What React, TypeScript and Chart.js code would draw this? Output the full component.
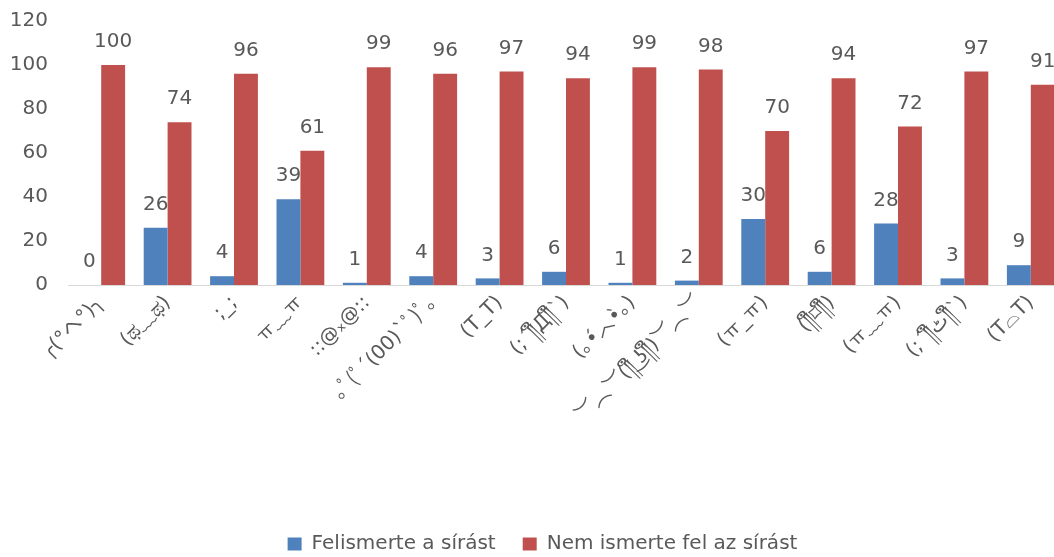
import React, { useEffect, useRef } from "react";
import { Chart, registerables } from "chart.js";

Chart.register(...registerables);

const categories: string[] = [
  "╭(°ヘ°)╮",
  "(ಥ﹏ಥ)",
  ";_;",
  "ㅠ﹏ㅠ",
  "::@ₓ@::",
  "｡ﾟ(ﾟ´(00)`ﾟ)ﾟ｡",
  "(T_T)",
  "(;´༎ຶД༎ຶ`)",
  "(｡•́︿•̀｡)",
  "︶︵︶(༎ຶ ͜ʖ༎ຶ)︶︵︶",
  "(ㅠ_ㅠ)",
  "(༎ຶ⌑༎ຶ)",
  "(ㅠ﹏ㅠ)",
  "(;´༎ຶٹ༎ຶ`)",
  "(T⌓T)",
];

const recognized: number[] = [0, 26, 4, 39, 1, 4, 3, 6, 1, 2, 30, 6, 28, 3, 9];
const notRecognized: number[] = [100, 74, 96, 61, 99, 96, 97, 94, 99, 98, 70, 94, 72, 97, 91];

const seriesNames: string[] = ["Felismerte a sírást", "Nem ismerte fel az sírást"];
const yTicks: number[] = [0, 20, 40, 60, 80, 100, 120];

const FONT = "'DejaVu Sans', 'Noto Sans', 'Noto Sans CJK KR', sans-serif";
const TEXT = "#595959";

const valueLabels = {
  id: "valueLabels",
  afterDatasetsDraw(chart: any) {
    const ctx = chart.ctx;
    ctx.save();
    ctx.font = `20px ${FONT}`;
    ctx.fillStyle = TEXT;
    ctx.textAlign = "center";
    ctx.textBaseline = "bottom";
    chart.data.datasets.forEach((ds: any, i: number) => {
      const meta = chart.getDatasetMeta(i);
      meta.data.forEach((bar: any, j: number) => {
        ctx.fillText(String(ds.data[j]), bar.x, bar.y - 13);
      });
    });
    ctx.restore();
  },
};

const legendShift = {
  id: "legendShift",
  afterLayout(chart: any) {
    const lg = chart.legend;
    if (!lg) return;
    const dx = 8;
    lg.left += dx;
    lg.right += dx;
    const targetTop = 543 - 27 - 9;
    const dy = targetTop - lg.top;
    lg.top += dy;
    lg.bottom += dy;
  },
};

export default function App() {
  const ref = useRef<HTMLCanvasElement | null>(null);
  useEffect(() => {
    if (!ref.current) return;
    const chart = new Chart(ref.current, {
      type: "bar",
      data: {
        labels: categories,
        datasets: [
          {
            label: seriesNames[0],
            data: recognized,
            backgroundColor: "#4F81BD",
            categoryPercentage: 0.72,
            barPercentage: 1,
          },
          {
            label: seriesNames[1],
            data: notRecognized,
            backgroundColor: "#C0504D",
            categoryPercentage: 0.72,
            barPercentage: 1,
          },
        ],
      },
      options: {
        animation: false,
        responsive: false,
        layout: { padding: { left: 5, top: 21, right: 0, bottom: 0 } },
        plugins: {
          tooltip: { enabled: false },
          legend: {
            position: "bottom",
            labels: {
              boxWidth: 14,
              boxHeight: 13,
              padding: 27,
              color: TEXT,
              font: { family: FONT, size: 20 },
            },
          },
        },
        scales: {
          x: {
            grid: { display: false, drawTicks: false },
            border: { display: true, color: "#D9D9D9", width: 1 },
            ticks: {
              color: TEXT,
              font: { family: FONT, size: 20 },
              maxRotation: 45,
              minRotation: 45,
              autoSkip: false,
              padding: 6,
            },
            afterFit: (scale: any) => {
              scale.height = 215;
              scale.paddingLeft = 0;
              scale.paddingRight = 0;
            },
          },
          y: {
            min: 0,
            max: 120,
            grid: { display: false, drawTicks: false },
            border: { display: false },
            afterBuildTicks: (scale: any) => {
              scale.ticks = yTicks.map((v) => ({ value: v }));
            },
            ticks: {
              color: TEXT,
              font: { family: FONT, size: 20 },
              padding: 20,
            },
            afterFit: (scale: any) => {
              scale.width = 63;
              scale.paddingTop = 0;
              scale.paddingBottom = 0;
            },
          },
        },
      },
      plugins: [valueLabels, legendShift],
    });
    return () => chart.destroy();
  }, []);
  return (
    <div style={{ position: "absolute", left: 0, top: 0, width: 1054, height: 557, overflow: "hidden" }}>
      <canvas ref={ref} width={1064} height={557} />
    </div>
  );
}
